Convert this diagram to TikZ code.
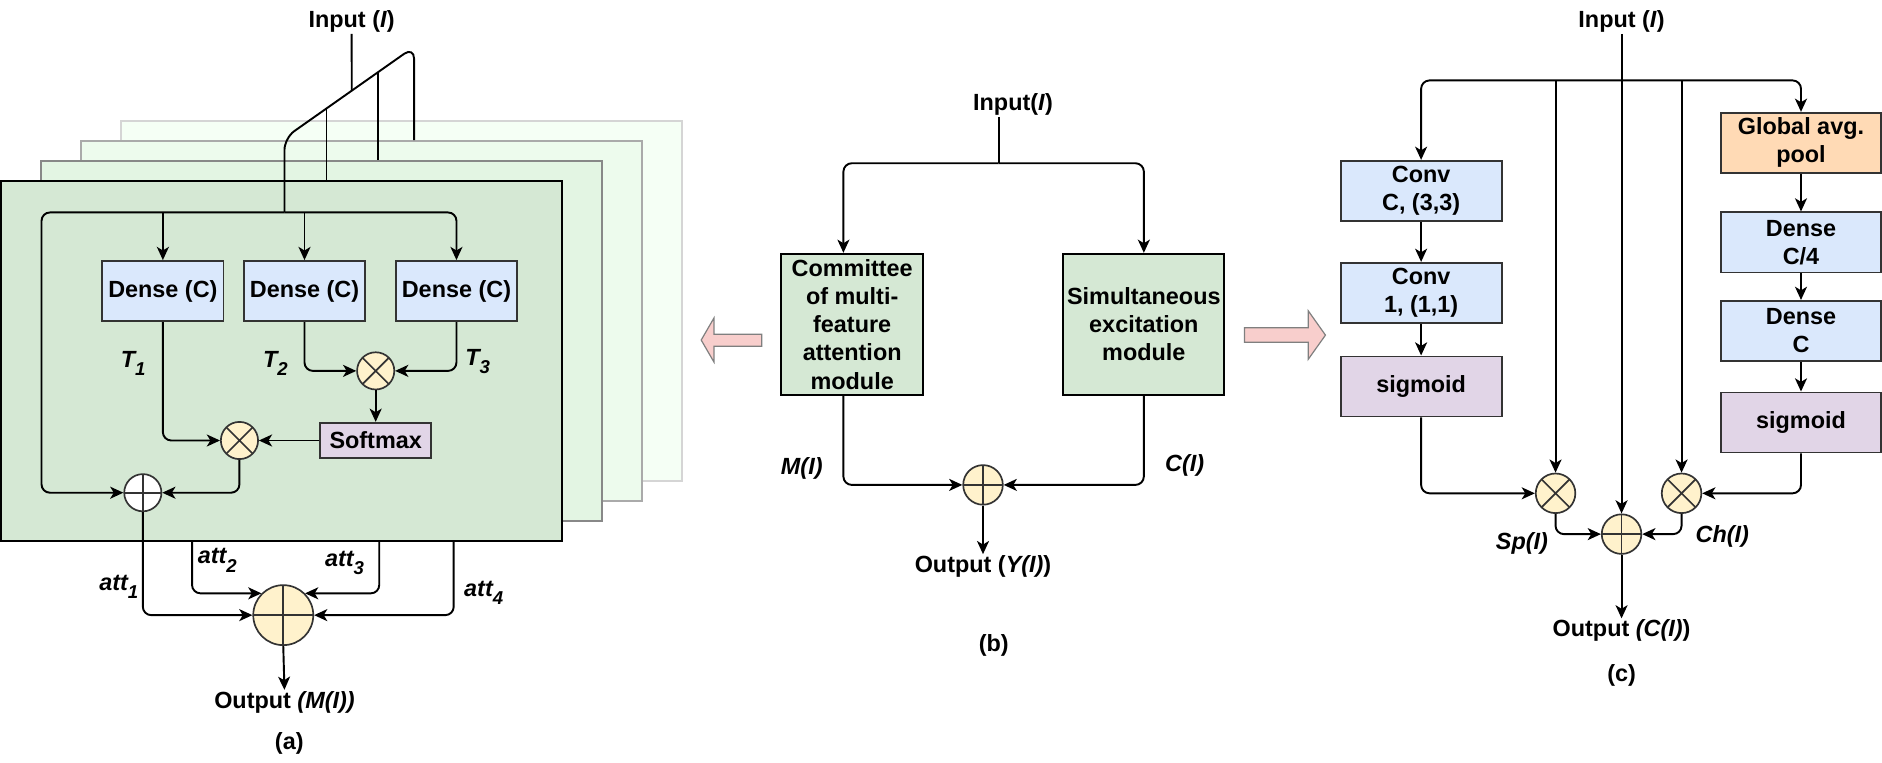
\documentclass[tikz,border=0pt]{standalone}
\usepackage{fontspec}
\setmainfont{Liberation Sans}
\usetikzlibrary{positioning,calc,arrows.meta}

\definecolor{sheetfill0}{HTML}{D5E8D4}
\definecolor{sheetfill1}{HTML}{E3F5E3}
\definecolor{sheetfill2}{HTML}{EDFBED}
\definecolor{sheetfill3}{HTML}{F5FFF5}
\definecolor{sheetline0}{HTML}{000000}
\definecolor{sheetline1}{HTML}{888888}
\definecolor{sheetline2}{HTML}{AAAAAA}
\definecolor{sheetline3}{HTML}{D5D5D5}
\definecolor{boxline}{HTML}{333333}
\definecolor{bluefill}{HTML}{DAE8FC}
\definecolor{purplefill}{HTML}{E1D5E7}
\definecolor{yellowfill}{HTML}{FFF2CC}
\definecolor{orangefill}{HTML}{FFDAB5}
\definecolor{pinkfill}{HTML}{F8CECC}
\definecolor{pinkline}{HTML}{7F7F7F}

\newcommand{\lowsub}[1]{\raisebox{-0.36em}{\fontsize{15.5}{15.5}\selectfont #1}}

\begin{document}
\begin{tikzpicture}[x=1pt,y=-1pt,
    every node/.style={font=\bfseries\fontsize{19.5}{23.5}\selectfont,inner sep=1pt},
    >={Stealth[length=11pt,width=10pt,inset=3pt]},
    conn/.style={line width=1.6pt,rounded corners=7pt},
    box/.style={draw=boxline,line width=1.6pt,minimum width=134,minimum height=50,align=center,inner sep=0pt},
    sheet/.style={line width=1.6pt,minimum width=467.5,minimum height=300,inner sep=0pt},
    multnode/.style={circle,draw=boxline,fill=yellowfill,line width=1.4pt,minimum size=31,inner sep=0pt,
        path picture={\draw[boxline,line width=1.4pt] (path picture bounding box.north west) -- (path picture bounding box.south east)
        (path picture bounding box.north east) -- (path picture bounding box.south west);}},
    addnode/.style={circle,draw=boxline,fill=yellowfill,line width=1.4pt,minimum size=31,inner sep=0pt,
        path picture={\draw[boxline,line width=1.4pt] (path picture bounding box.north) -- (path picture bounding box.south)
        (path picture bounding box.west) -- (path picture bounding box.east);}},
    lbl/.style={font=\bfseries\itshape\fontsize{19.5}{23.5}\selectfont},
    pinkarrow/.style={draw=pinkline,fill=pinkfill,line width=1pt}]

    \useasboundingbox (0,0) rectangle (1568,635);

    % ---------------- (a) ----------------
    \foreach \k in {3,2,1,0} {
      \node[sheet,fill=sheetfill\k,draw=sheetline\k] (lay\k) at ({234.5+33.3*\k},{301-16.7*\k}) {};
    }

    \node (inA) at (293,18) {Input (\textit{I})};
    \coordinate (busA) at (237,177);
    \coordinate (dgA) at (237,115);
    \coordinate (dgB) at (345,39);
    \draw[conn,rounded corners=10pt] (busA) -- (dgA) -- (dgB) -- (dgB |- lay2.north); %feed of the sheets
    \foreach \fr/\k in {0.324/0,0.722/1} {
      \draw[conn] ($(dgA)!\fr!(dgB)$) coordinate (br\k) -- (br\k |- lay\k.north);
    }
    \draw[conn] (inA.south) -- ($(dgA)!0.519!(dgB)$);

    \foreach \n/\x in {1/135.7,2/253.7,3/380.3} {
      \node[box,fill=bluefill,minimum width=101] (d\n) at (\x,242.5) {Dense (C)};
    }
    \node[multnode] (mA1) at (313,309) {};
    \node[box,fill=purplefill,minimum width=92.5,minimum height=29.5] (sm) at (313,367) {Softmax};
    \node[multnode] (mA2) at (199.5,367) {};
    \node[addnode,fill=white] (pA) at (119,410.5) {};
    \node[addnode,minimum size=50] (sA) at (236,512.5) {};

    \draw[conn,->] (busA) -| (d3.north);
    \draw[conn,->] (d1.north |- busA) -- (d1.north);
    \draw[conn,->] (d2.north |- busA) -- (d2.north);
    \coordinate (lftA) at (34.6,410.5);
    \draw[conn,->] (busA) -| (lftA) -- (pA.west); %skip path

    \draw[conn,->] (d2.south) |- (mA1.west);
    \draw[conn,->] (d3.south) |- (mA1.east);
    \draw[conn,->] (mA1.south) -- (sm.north);
    \draw[conn,->] (sm.west) -- (mA2.east);
    \draw[conn,->] (d1.south) |- (mA2.west);
    \draw[conn,->] (mA2.south) |- (pA.east);

    \coordinate (at2) at (160,451);
    \coordinate (at3) at (316,451);
    \coordinate (at4) at (378,451);
    \draw[conn,->] (pA.south) |- (sA.west);
    \draw[conn,->] (at2) |- (sA.135);
    \draw[conn,->] (at3) |- (sA.45);
    \draw[conn,->] (at4) |- (sA.east);

    \node[lbl] (t1) at (111,303) {T\lowsub{1}};
    \node[lbl] (t2) at (229.5,303) {T\lowsub{2}};
    \node[lbl] (t3) at (398,301) {T\lowsub{3}};
    \node[lbl] (a1) at (99,489) {att\lowsub{1}};
    \node[lbl] (a2) at (181,467) {att\lowsub{2}};
    \node[lbl] (a3) at (287,469) {att\lowsub{3}};
    \node[lbl] (a4) at (403,494) {att\lowsub{4}};

    \node (outA) at (237,585) {Output \textit{(M(I))}};
    \draw[conn,->] (sA.south) -- (outA.north);
    \node (capA) at (241,619) {(a)};

    % ---------------- (b) ----------------
    \node (inB) at (844,87) {Input(\textit{I})};
    \coordinate (busB) at (832,136);
    \node[box,draw=black,fill=sheetfill0,minimum width=118,minimum height=117.5] (cmt) at (710,270.2)
      {Committee\\of multi-\\feature\\attention\\module};
    \node[box,draw=black,fill=sheetfill0,minimum width=134,minimum height=117.5] (sim) at (953,270.2)
      {Simultaneous\\excitation\\module};
    \node[addnode,minimum size=33] (pB) at (819,404) {};

    \draw[conn] (busB |- inB.south) -- (busB);
    \draw[conn,->] (busB) -| (cmt.97);
    \draw[conn,->] (busB) -| (sim.north);
    \draw[conn,->] (cmt.263) |- (pB.west);
    \draw[conn,->] (sim.south) |- (pB.east);

    \node[lbl] (mi) at (668,390) {M(I)};
    \node[lbl] (ci) at (987,388) {C(I)};
    \node (outB) at (819,472) {Output (\textit{Y(I)})};
    \draw[conn,->] (pB.south) -- (outB.north);
    \node (capB) at (828,538) {(b)};

    \draw[pinkarrow] (634.7,278.5) -- (594.8,278.5) -- (594.8,265) -- (584.2,283.3) -- (594.8,301.6)
      -- (594.8,288.5) -- (634.7,288.5) -- cycle; %to (a)
    \draw[pinkarrow] (1036.8,273) -- (1090,273) -- (1090,259) -- (1104.3,279.2) -- (1090,299.3)
      -- (1090,285.2) -- (1036.8,285.2) -- cycle; %to (c)

    % ---------------- (c) ----------------
    \node (inC) at (1351,18) {Input (\textit{I})};
    \coordinate (busC) at (1351,67);
    \node[box,fill=bluefill] (cv1) at (1184,159) {Conv\\C, (3,3)};
    \node[box,fill=bluefill] (cv2) at (1184,244) {Conv\\1, (1,1)};
    \node[box,fill=purplefill] (sg1) at (1184,322) {sigmoid};
    \node[box,fill=orangefill] (gap) at (1500.5,119) {Global avg.\\pool};
    \node[box,fill=bluefill] (dc4) at (1500.5,202) {Dense\\C/4};
    \node[box,fill=bluefill] (dcc) at (1500.5,275.7) {Dense\\C};
    \node[box,fill=purplefill] (sg2) at (1500.5,352) {sigmoid};
    \node[multnode,minimum size=33] (mC1) at (1296,411) {};
    \node[multnode,minimum size=33] (mC2) at (1401,411) {};
    \node[addnode,minimum size=33] (pC) at (1351,445) {};

    \draw[conn,->] (inC.south) -- (pC.north);
    \draw[conn,->] (busC) -| (cv1.north);
    \draw[conn,->] (busC) -| (gap.north);
    \draw[conn,->] (mC1.north |- busC) -- (mC1.north);
    \draw[conn,->] (mC2.north |- busC) -- (mC2.north);
    \draw[conn,->] (cv1) -- (cv2);
    \draw[conn,->] (cv2) -- (sg1);
    \draw[conn,->] (gap) -- (dc4);
    \draw[conn,->] (dc4) -- (dcc);
    \draw[conn,->] (dcc) -- (sg2);
    \draw[conn,->] (sg1.south) |- (mC1.west);
    \draw[conn,->] (sg2.south) |- (mC2.east);
    \draw[conn,->] (mC1.south) |- (pC.west);
    \draw[conn,->] (mC2.south) |- (pC.east);

    \node[lbl] (spi) at (1268,453) {Sp(I)};
    \node[lbl] (chi) at (1435,447) {Ch(I)};
    \node (outC) at (1351,525.5) {Output \textit{(C(I)})};
    \draw[conn,->] (pC.south) -- (outC.north);
    \node (capC) at (1351,562.5) {(c)};
  \end{tikzpicture}
\end{document}
